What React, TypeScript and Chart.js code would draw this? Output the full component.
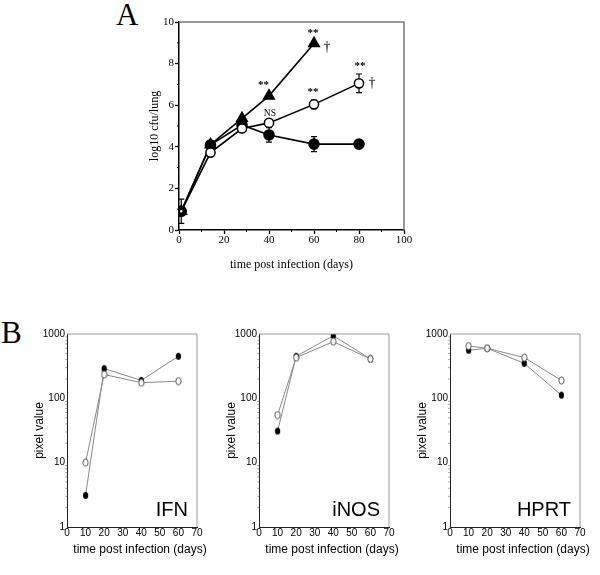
import React, { useEffect, useRef } from 'react';
import { Chart, registerables } from 'chart.js';
Chart.register(...registerables);

const SERIF = '"Liberation Serif", "Times New Roman", serif';
const SANS = '"Liberation Sans", Arial, sans-serif';

// ---------- Panel A data ----------
const daysTri = [1, 14, 28, 40, 60];
const cfuTri = [0.9, 4.1, 5.37, 6.45, 8.97];
const daysCirc = [1, 14, 28, 40, 60, 80];
const cfuOpen = [0.9, 3.72, 4.88, 5.15, 6.04, 7.05];
const errOpen = [0, 0, 0, 0, 0.2, 0.45];
const cfuFilled = [0.9, 4.09, 5.05, 4.57, 4.13, 4.13];
const errFilled = [0.58, 0, 0, 0.35, 0.36, 0];
const xTicksA = [0, 20, 40, 60, 80, 100];
const xMinorA = [10, 30, 50, 70, 90];
const yTicksA = [0, 2, 4, 6, 8, 10];
const yMinorA = [1, 3, 5, 7, 9];
const noteText = ['**', '**', '†', 'NS', '**', '**', '†'];
const noteX = [37.5, 59.6, 65.8, 40.4, 59.6, 80.4, 85.8];
const noteY = [6.97, 9.47, 8.8, 5.62, 6.63, 7.88, 7.07];

// ---------- Panel B data ----------
const daysB = [10, 20, 40, 60];
const ifnFilled = [3.1, 290, 190, 450];
const ifnOpen = [10, 235, 175, 185];
const inosFilled = [31, 450, 940, 410];
const inosOpen = [55, 430, 760, 410];
const hprtFilled = [560, 600, 350, 112];
const hprtOpen = [650, 600, 430, 190];
const xTicksB = [0, 10, 20, 30, 40, 50, 60, 70];
const yTicksB = [1, 10, 100, 1000];
const yMinorB = [2, 3, 4, 5, 6, 7, 8, 9, 20, 30, 40, 50, 60, 70, 80, 90, 200, 300, 400, 500, 600, 700, 800, 900];
const panelNames = ['IFN', 'iNOS', 'HPRT'];

type Note = { text: string; x: number; y: number; font: string };
type Decor = {
  frameColor: string;
  frameWidth: number;
  minorX?: number[];
  minorY?: number[];
  minorLen: number;
  minorColor: string;
  minorWidth: number;
  errors?: { xs: number[]; ys: number[]; es: number[] }[];
  notes?: Note[];
  label?: { text: string; font: string };
  xTitle?: { text: string; font: string; dx: number; dy: number };
};

function decorPlugin(d: Decor) {
  return {
    id: 'decor',
    beforeDatasetsDraw(chart: any) {
      const ctx = chart.ctx;
      const xs = chart.scales.x;
      const ys = chart.scales.y;
      ctx.save();
      ctx.strokeStyle = '#000';
      ctx.lineWidth = 1.2;
      (d.errors || []).forEach((e) => {
        e.xs.forEach((xv, i) => {
          if (!e.es[i]) return;
          const px = xs.getPixelForValue(xv);
          const top = ys.getPixelForValue(e.ys[i] + e.es[i]);
          const bot = ys.getPixelForValue(e.ys[i] - e.es[i]);
          ctx.beginPath();
          ctx.moveTo(px, top);
          ctx.lineTo(px, bot);
          ctx.moveTo(px - 3, top);
          ctx.lineTo(px + 3, top);
          ctx.moveTo(px - 3, bot);
          ctx.lineTo(px + 3, bot);
          ctx.stroke();
        });
      });
      ctx.restore();
    },
    afterDraw(chart: any) {
      const ctx = chart.ctx;
      const a = chart.chartArea;
      const xs = chart.scales.x;
      const ys = chart.scales.y;
      ctx.save();
      ctx.strokeStyle = d.frameColor;
      ctx.lineWidth = d.frameWidth;
      ctx.beginPath();
      ctx.moveTo(a.left, a.top);
      ctx.lineTo(a.right, a.top);
      ctx.lineTo(a.right, a.bottom);
      ctx.stroke();
      ctx.strokeStyle = d.minorColor;
      ctx.lineWidth = d.minorWidth;
      ctx.beginPath();
      (d.minorX || []).forEach((v) => {
        const px = xs.getPixelForValue(v);
        ctx.moveTo(px, a.bottom);
        ctx.lineTo(px, a.bottom + d.minorLen);
      });
      (d.minorY || []).forEach((v) => {
        const py = ys.getPixelForValue(v);
        ctx.moveTo(a.left, py);
        ctx.lineTo(a.left - d.minorLen, py);
      });
      ctx.stroke();
      ctx.fillStyle = '#000';
      ctx.textAlign = 'center';
      ctx.textBaseline = 'middle';
      (d.notes || []).forEach((n) => {
        ctx.font = n.font;
        ctx.fillText(n.text, xs.getPixelForValue(n.x), ys.getPixelForValue(n.y));
      });
      if (d.label) {
        ctx.font = d.label.font;
        ctx.textAlign = 'right';
        ctx.textBaseline = 'alphabetic';
        ctx.fillText(d.label.text, a.right - 9, a.bottom - 11);
      }
      if (d.xTitle) {
        ctx.font = d.xTitle.font;
        ctx.textAlign = 'center';
        ctx.textBaseline = 'middle';
        ctx.fillText(d.xTitle.text, (a.left + a.right) / 2 + d.xTitle.dx, a.bottom + d.xTitle.dy);
      }
      ctx.restore();
    },
  };
}

function ellipseStyle(filled: boolean) {
  const c = document.createElement('canvas');
  c.width = 7;
  c.height = 9;
  const g = c.getContext('2d')!;
  g.beginPath();
  g.ellipse(3.5, 4.5, 2.6, 3.6, 0, 0, Math.PI * 2);
  if (filled) {
    g.fillStyle = '#000';
    g.fill();
  } else {
    g.fillStyle = '#fff';
    g.fill();
    g.strokeStyle = '#555';
    g.lineWidth = 1;
    g.stroke();
  }
  return c;
}

function pts(xs: number[], ys: number[]) {
  return xs.map((x, i) => ({ x, y: ys[i] }));
}

function panelAConfig(): any {
  const notes: Note[] = noteText.map((t, i) => ({
    text: t,
    x: noteX[i],
    y: noteY[i],
    font: t === 'NS' ? `9.5px ${SERIF}` : t === '†' ? `14px ${SERIF}` : `bold 11px ${SERIF}`,
  }));
  return {
    type: 'line',
    data: {
      datasets: [
        {
          data: pts(daysCirc, cfuOpen),
          borderColor: '#000',
          borderWidth: 1.6,
          pointStyle: 'circle',
          pointRadius: daysCirc.map((d) => (d < 5 ? 2 : 4.6)),
          pointBackgroundColor: '#fff',
          pointBorderColor: '#000',
          pointBorderWidth: 1.5,
        },
        {
          data: pts(daysCirc, cfuFilled),
          borderColor: '#000',
          borderWidth: 1.6,
          pointStyle: 'circle',
          pointRadius: 5,
          pointBackgroundColor: '#000',
          pointBorderColor: '#000',
        },
        {
          data: pts(daysTri, cfuTri),
          borderColor: '#000',
          borderWidth: 1.6,
          pointStyle: 'triangle',
          pointRadius: 6,
          pointBackgroundColor: '#000',
          pointBorderColor: '#000',
        },
      ],
    },
    options: {
      animation: false,
      responsive: false,
      layout: { padding: { top: 22, right: 26, left: 0, bottom: 0 } },
      plugins: { legend: { display: false }, tooltip: { enabled: false } },
      scales: {
        x: {
          type: 'linear',
          min: 0,
          max: 100,
          afterBuildTicks: (s: any) => {
            s.ticks = xTicksA.map((v) => ({ value: v }));
          },
          afterFit: (s: any) => {
            s.height = 50;
          },
          ticks: { font: { family: SERIF, size: 11 }, color: '#000', padding: 0 },
          grid: { drawOnChartArea: false, drawTicks: true, tickLength: 4, tickColor: '#000', tickWidth: 1.3 },
          border: { color: '#000', width: 1.5 },
          title: {
            display: true,
            text: 'time post infection (days)',
            font: { family: SERIF, size: 12 },
            color: '#000',
            padding: { top: 0, bottom: 8 },
          },
        },
        y: {
          type: 'linear',
          min: 0,
          max: 10,
          afterBuildTicks: (s: any) => {
            s.ticks = yTicksA.map((v) => ({ value: v }));
          },
          afterFit: (s: any) => {
            s.width = 79;
          },
          ticks: { font: { family: SERIF, size: 11 }, color: '#000', padding: 1 },
          grid: { drawOnChartArea: false, drawTicks: true, tickLength: 4, tickColor: '#000', tickWidth: 1.3 },
          border: { color: '#000', width: 1.5 },
          title: {
            display: true,
            text: 'log10 cfu/lung',
            font: { family: SERIF, size: 12 },
            color: '#000',
            padding: { top: 48, bottom: 0 },
          },
        },
      },
    },
    plugins: [
      decorPlugin({
        frameColor: '#777',
        frameWidth: 1.5,
        minorX: xMinorA,
        minorY: yMinorA,
        minorLen: 2,
        minorColor: '#000',
        minorWidth: 1,
        errors: [
          { xs: daysCirc, ys: cfuFilled, es: errFilled },
          { xs: daysCirc, ys: cfuOpen, es: errOpen },
        ],
        notes,
      }),
    ],
  };
}

function panelBConfig(name: string, filled: number[], open: number[]): any {
  return {
    type: 'line',
    data: {
      datasets: [
        {
          data: pts(daysB, open),
          borderColor: '#888',
          borderWidth: 1,
          pointStyle: ellipseStyle(false),
        },
        {
          data: pts(daysB, filled),
          borderColor: '#888',
          borderWidth: 1,
          pointStyle: ellipseStyle(true),
        },
      ],
    },
    options: {
      animation: false,
      responsive: false,
      layout: { padding: { top: 14, right: 12, left: 0, bottom: 0 } },
      plugins: { legend: { display: false }, tooltip: { enabled: false } },
      scales: {
        x: {
          type: 'linear',
          min: 0,
          max: 70,
          afterBuildTicks: (s: any) => {
            s.ticks = xTicksB.map((v) => ({ value: v }));
          },
          afterFit: (s: any) => {
            s.height = 48;
          },
          ticks: { font: { family: SANS, size: 10 }, color: '#000', padding: 0 },
          grid: { drawOnChartArea: false, drawTicks: false },
          border: { color: '#222', width: 1 },
        },
        y: {
          type: 'logarithmic',
          min: 1,
          max: 1000,
          afterBuildTicks: (s: any) => {
            s.ticks = yTicksB.map((v) => ({ value: v }));
          },
          afterFit: (s: any) => {
            s.width = 67;
          },
          ticks: {
            font: { family: SANS, size: 10 },
            color: '#000',
            padding: 2,
            callback: (v: any) => String(v),
          },
          grid: { drawOnChartArea: false, drawTicks: false },
          border: { color: '#222', width: 1 },
          title: {
            display: true,
            text: 'pixel value',
            font: { family: SANS, size: 12 },
            color: '#000',
            padding: { top: 32, bottom: 0 },
          },
        },
      },
    },
    plugins: [
      decorPlugin({
        frameColor: '#999',
        frameWidth: 1,
        minorY: yMinorB,
        minorLen: 2,
        minorColor: '#aaa',
        minorWidth: 1,
        label: { text: name, font: `20px ${SANS}` },
        xTitle: { text: 'time post infection (days)', font: `12px ${SANS}`, dx: 8, dy: 23 },
      }),
    ],
  };
}

function ChartBox(props: { left: number; top: number; width: number; height: number; make: () => any }) {
  const ref = useRef<HTMLCanvasElement>(null);
  useEffect(() => {
    const chart = new Chart(ref.current!, props.make());
    return () => chart.destroy();
  }, []);
  return (
    <canvas
      ref={ref}
      width={props.width}
      height={props.height}
      style={{ position: 'absolute', left: props.left, top: props.top, width: props.width, height: props.height }}
    />
  );
}

export default function App() {
  const bPlots = [
    { left: 0, filled: ifnFilled, open: ifnOpen },
    { left: 192, filled: inosFilled, open: inosOpen },
    { left: 383, filled: hprtFilled, open: hprtOpen },
  ];
  return (
    <div style={{ position: 'absolute', left: 0, top: 0, width: 600, height: 575, background: '#fff' }}>
      <div style={{ position: 'absolute', left: 116, top: -1, font: `31px ${SERIF}`, lineHeight: '31px', color: '#000' }}>A</div>
      <div style={{ position: 'absolute', left: 1, top: 317, font: `31px ${SERIF}`, lineHeight: '31px', color: '#000' }}>B</div>
      <ChartBox left={100} top={0} width={330} height={280} make={panelAConfig} />
      {bPlots.map((p, i) => (
        <ChartBox
          key={i}
          left={p.left}
          top={320}
          width={209}
          height={255}
          make={() => panelBConfig(panelNames[i], p.filled, p.open)}
        />
      ))}
    </div>
  );
}
